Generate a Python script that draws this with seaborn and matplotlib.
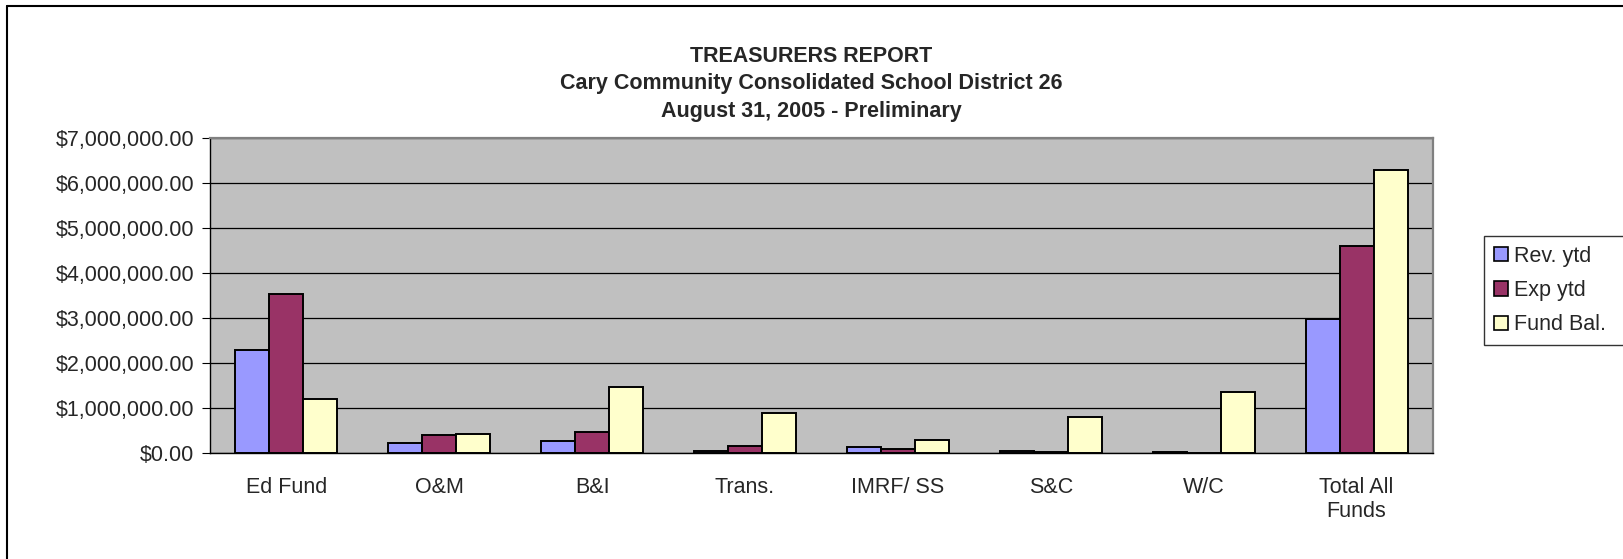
import numpy as np
import pandas as pd
import matplotlib
matplotlib.use("Agg")
import matplotlib.pyplot as plt
import seaborn as sns
from matplotlib.patches import Patch
from matplotlib.lines import Line2D
from matplotlib.ticker import FuncFormatter, MultipleLocator

# ---- data ----
categories = ["Ed Fund", "O&M", "B&I", "Trans.", "IMRF/ SS", "S&C", "W/C", "Total All\nFunds"]
rev_ytd = [2300000, 230000, 260000, 40000, 130000, 40000, 20000, 2980000]
exp_ytd = [3540000, 400000, 460000, 150000, 100000, 20000, 0, 4610000]
fund_bal = [1190000, 430000, 1460000, 890000, 280000, 790000, 1350000, 6300000]
series = ["Rev. ytd", "Exp ytd", "Fund Bal."]
colors = ["#9999FF", "#993366", "#FFFFCC"]
title_lines = ["TREASURERS REPORT",
               "Cary Community Consolidated School District 26",
               "August 31, 2005 - Preliminary"]

df = pd.DataFrame({
    "Fund": categories * 3,
    "Series": [series[0]] * 8 + [series[1]] * 8 + [series[2]] * 8,
    "Value": rev_ytd + exp_ytd + fund_bal,
})

sns.set_style("white")
plt.rcParams["font.family"] = ["Liberation Sans", "DejaVu Sans"]

W, H = 1623, 559
fig = plt.figure(figsize=(W / 100, H / 100), dpi=100)
ax = fig.add_axes([210 / W, 1 - 453 / H, (1433 - 210) / W, (453 - 138) / H])
ax.set_facecolor("#C0C0C0")

sns.barplot(data=df, x="Fund", y="Value", hue="Series", order=categories,
            hue_order=series, palette=colors, width=0.667, edgecolor="black",
            linewidth=1.4, errorbar=None, ax=ax, legend=False, saturation=1)

ax.set_xlim(-0.5, 7.5)
ax.set_ylim(0, 7000000)
ax.yaxis.set_major_locator(MultipleLocator(1000000))
ax.yaxis.set_major_formatter(FuncFormatter(lambda v, p: "${:,.2f}".format(v)))
ax.set_xlabel("")
ax.set_ylabel("")

ax.set_axisbelow(True)
ax.yaxis.grid(True, color="black", linewidth=0.9)
ax.xaxis.grid(False)

ax.set_xticks(np.arange(8))
ax.set_xticklabels(categories)
ax.set_xticks(np.arange(-0.5, 8.0, 1.0), minor=True)
ax.tick_params(axis="x", which="major", length=0, pad=17, labelsize=15.5)
ax.tick_params(axis="x", which="minor", length=5.5, width=0.8, color="black", direction="out")
ax.tick_params(axis="y", which="major", length=5.5, width=0.8, color="black",
               direction="out", pad=6, labelsize=15.5, left=True)

for s in ["left", "bottom"]:
    ax.spines[s].set_color("black")
    ax.spines[s].set_linewidth(1.0)
for s in ["top", "right"]:
    ax.spines[s].set_color("#808080")
    ax.spines[s].set_linewidth(1.6)

# title
for txt, yp in zip(title_lines, [57, 84, 111]):
    fig.text(0.5, 1 - yp / H, txt, ha="center", va="center",
             fontsize=15.5, fontweight="bold")

# legend
handles = [Patch(facecolor=c, edgecolor="black", linewidth=1.2) for c in colors]
leg = fig.legend(handles, series, loc="upper left",
                 bbox_to_anchor=(1484 / W, 0, (1800 - 1484) / W, 1 - 236 / H),
                 mode="expand", fontsize=15.5, frameon=True, fancybox=False,
                 edgecolor="black", handlelength=0.65, handleheight=0.65,
                 handletextpad=0.3, labelspacing=0.62, borderpad=0.45,
                 borderaxespad=0)
leg.get_frame().set_linewidth(1.0)

# chart-area border
fig.add_artist(Line2D([7 / W, 7 / W], [-0.1, 1 - 6 / H], color="black", linewidth=1.5))
fig.add_artist(Line2D([7 / W, 1.1], [1 - 6 / H, 1 - 6 / H], color="black", linewidth=1.5))

fig.savefig("out.png", dpi=100)
